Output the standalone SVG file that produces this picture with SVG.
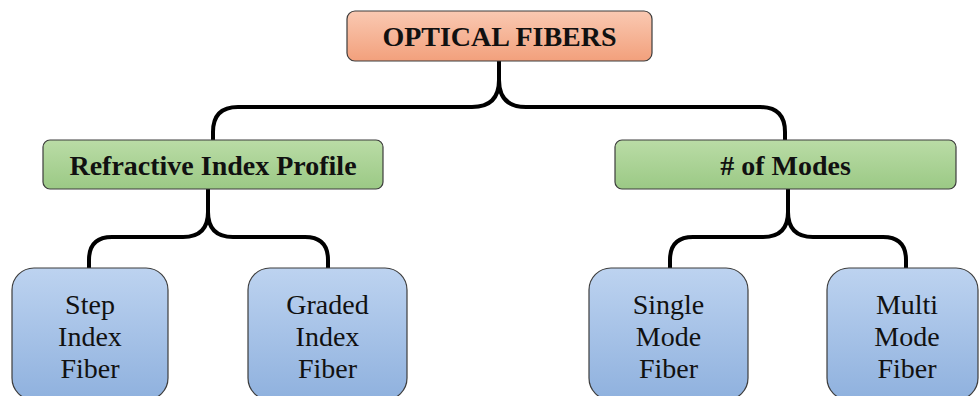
<svg xmlns="http://www.w3.org/2000/svg" width="979" height="396" viewBox="0 0 979 396">
  <defs>
    <linearGradient id="gOrange" x1="0" y1="0" x2="0" y2="1">
      <stop offset="0" stop-color="#fac9b2"/>
      <stop offset="1" stop-color="#f2a07c"/>
    </linearGradient>
    <linearGradient id="gGreen" x1="0" y1="0" x2="0" y2="1">
      <stop offset="0" stop-color="#badca6"/>
      <stop offset="1" stop-color="#9bc985"/>
    </linearGradient>
    <linearGradient id="gBlue" x1="0" y1="0" x2="0" y2="1">
      <stop offset="0" stop-color="#bdd3f0"/>
      <stop offset="1" stop-color="#8fb1de"/>
    </linearGradient>
  </defs>
  <style>
    .box { stroke: #3c3c3c; stroke-width: 1.2; }
    .link { fill: none; stroke: #000; stroke-width: 4; stroke-linejoin: round; }
  </style>

  <g id="connectors">
    <path class="link" d="M499,61 V80 Q499,107 472,107 H238 Q213,107 213,132 V140"/>
    <path class="link" d="M499,80 Q499,107 526,107 H760 Q785,107 785,132 V140"/>
    <path class="link" d="M208,189 V212 Q208,237 183,237 H112 Q89,237 89,260 V268"/>
    <path class="link" d="M208,212 Q208,237 233,237 H305 Q328,237 328,260 V268"/>
    <path class="link" d="M788,189 V212 Q788,237 763,237 H693 Q670,237 670,260 V268"/>
    <path class="link" d="M788,212 Q788,237 813,237 H883 Q906,237 906,260 V268"/>
  </g>

  <g id="optical-fibers">
    <rect class="box" x="347" y="11" width="305" height="50" rx="8" fill="url(#gOrange)"/>
    <text x="499.5" y="46" font-family="Liberation Serif" font-size="28" font-weight="bold" fill="#111" text-anchor="middle">OPTICAL FIBERS</text>
  </g>

  <g id="refractive-index-profile">
    <rect class="box" x="43" y="140" width="340" height="49" rx="7" fill="url(#gGreen)"/>
    <text x="213" y="175" font-family="Liberation Serif" font-size="28" font-weight="bold" fill="#111" text-anchor="middle">Refractive Index Profile</text>
  </g>

  <g id="num-modes">
    <rect class="box" x="615" y="140" width="341" height="49" rx="7" fill="url(#gGreen)"/>
    <text x="785.5" y="175" font-family="Liberation Serif" font-size="28" font-weight="bold" fill="#111" text-anchor="middle"># of Modes</text>
  </g>

  <g id="step-index-fiber">
    <rect class="box" x="12" y="268" width="156" height="132" rx="22" fill="url(#gBlue)"/>
    <text x="90" y="314" font-family="Liberation Serif" font-size="28" fill="#111" text-anchor="middle">Step</text>
    <text x="90" y="346" font-family="Liberation Serif" font-size="28" fill="#111" text-anchor="middle">Index</text>
    <text x="90" y="378" font-family="Liberation Serif" font-size="28" fill="#111" text-anchor="middle">Fiber</text>
  </g>

  <g id="graded-index-fiber">
    <rect class="box" x="248" y="268" width="159" height="132" rx="22" fill="url(#gBlue)"/>
    <text x="327.5" y="314" font-family="Liberation Serif" font-size="28" fill="#111" text-anchor="middle">Graded</text>
    <text x="327.5" y="346" font-family="Liberation Serif" font-size="28" fill="#111" text-anchor="middle">Index</text>
    <text x="327.5" y="378" font-family="Liberation Serif" font-size="28" fill="#111" text-anchor="middle">Fiber</text>
  </g>

  <g id="single-mode-fiber">
    <rect class="box" x="589" y="268" width="159" height="132" rx="22" fill="url(#gBlue)"/>
    <text x="668.5" y="314" font-family="Liberation Serif" font-size="28" fill="#111" text-anchor="middle">Single</text>
    <text x="668.5" y="346" font-family="Liberation Serif" font-size="28" fill="#111" text-anchor="middle">Mode</text>
    <text x="668.5" y="378" font-family="Liberation Serif" font-size="28" fill="#111" text-anchor="middle">Fiber</text>
  </g>

  <g id="multi-mode-fiber">
    <rect class="box" x="827" y="268" width="151" height="132" rx="22" fill="url(#gBlue)"/>
    <text x="907" y="314" font-family="Liberation Serif" font-size="28" fill="#111" text-anchor="middle">Multi</text>
    <text x="907" y="346" font-family="Liberation Serif" font-size="28" fill="#111" text-anchor="middle">Mode</text>
    <text x="907" y="378" font-family="Liberation Serif" font-size="28" fill="#111" text-anchor="middle">Fiber</text>
  </g>
</svg>
